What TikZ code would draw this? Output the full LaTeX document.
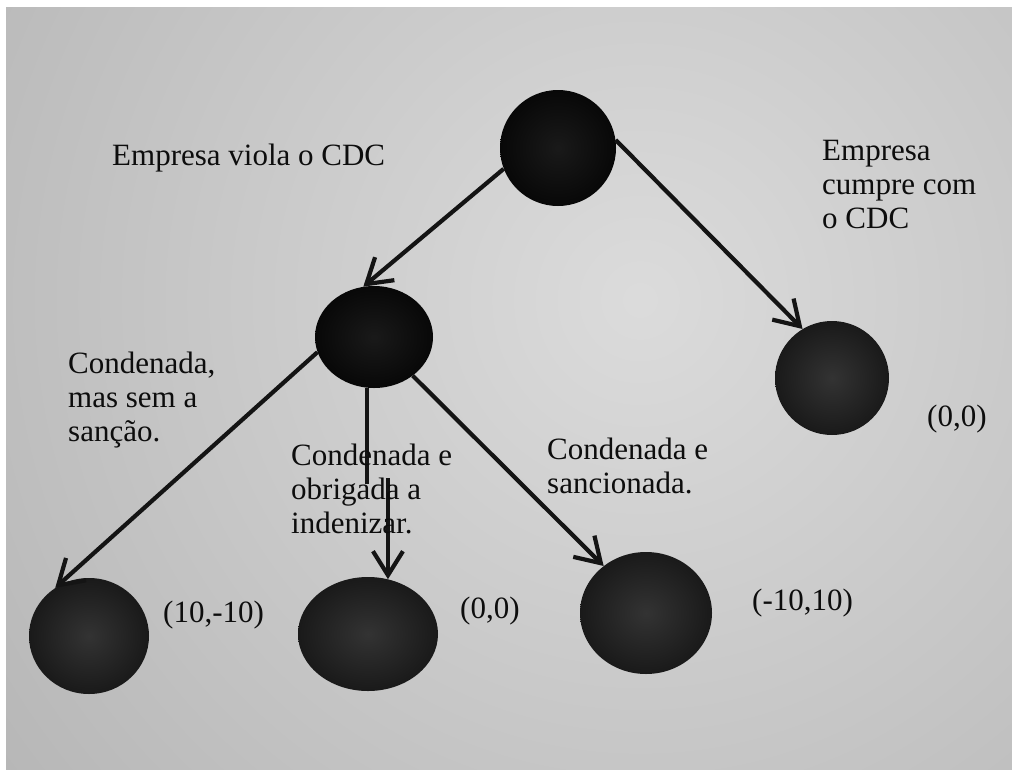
\documentclass[tikz,border=0pt]{standalone}
\usepackage{fontspec}
\setmainfont{Liberation Serif}
\usetikzlibrary{shapes.geometric,arrows.meta}
\begin{document}
\begin{tikzpicture}[x=1pt,y=-1pt,
  darkball/.style={ellipse,inner sep=0pt,shading=radial,inner color=black!90,outer color=black!97},
  greyball/.style={ellipse,inner sep=0pt,shading=radial,inner color=black!80,outer color=black!90},
  conn/.style={line width=4.2pt,draw=black!92,-{Straight Barb[length=24pt,width=30pt]}},
  plain/.style={line width=4.2pt,draw=black!92},
  lbl/.style={font=\fontsize{31}{34}\selectfont,text=black!95,align=left,anchor=base west,inner sep=0pt}]
% background
\fill[white] (0,0) rectangle (1012,769);
\fill[black!30] (6,7) rectangle (1012,769);
\begin{scope}
\clip (6,7) rectangle (1012,769);
\shade[inner color=black!14,outer color=black!32] (640,300) circle (1000);
\end{scope}
\useasboundingbox (0,0) rectangle (1012,769);
% nodes
\node[darkball,minimum width=116pt,minimum height=116pt] (root) at (558,148) {};
\node[darkball,minimum width=118pt,minimum height=102pt] (mid) at (374,337) {};
\node[greyball,minimum width=114pt,minimum height=114pt] (right) at (832,378) {};
\node[greyball,minimum width=120pt,minimum height=116pt] (bl) at (89,636) {};
\node[greyball,minimum width=140pt,minimum height=114pt] (bm) at (368,634) {};
\node[greyball,minimum width=132pt,minimum height=122pt] (br) at (646,613) {};
% connectors
\draw[conn] (root.201) -- (mid.102);
\draw[conn] (root.8) -- (right.121);
\draw[conn] (mid.195) -- (bl.125);
\draw[conn] (mid.315) -- (br.132);
\draw[plain] (mid.262) -- ++(0,96);
\draw[conn] (bm.70 |- 0,478) -- (bm.70);
% labels (anchored at the baseline of the last line)
\node[lbl] (t1) at (112,165) {Empresa viola o CDC};
\node[lbl] (t2) at (822,228) {Empresa\\cumpre com\\o CDC};
\node[lbl] (t3) at (68,441) {Condenada,\\mas sem a\\sanção.};
\node[lbl] (t4) at (291,533) {Condenada e\\obrigada a\\indenizar.};
\node[lbl] (t5) at (547,493) {Condenada e\\sancionada.};
\node[lbl] (t6) at (927,426) {(0,0)};
\node[lbl] (t7) at (163,622) {(10,-10)};
\node[lbl] (t8) at (460,618) {(0,0)};
\node[lbl] (t9) at (752,610) {(-10,10)};
\end{tikzpicture}
\end{document}
